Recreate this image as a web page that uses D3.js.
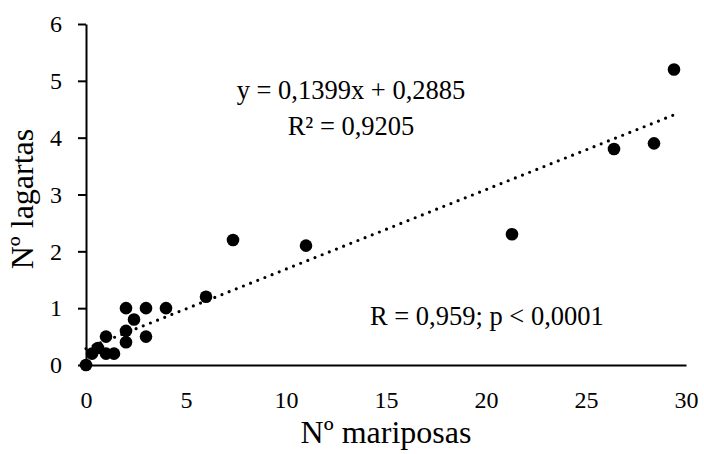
<!doctype html>
<html lang="es">
<head>
    <meta charset="utf-8">
    <script src="https://d3js.org/d3.v7.min.js"></script>
    <title>Mariposas vs lagartas</title>
    <style>
        body { margin: 0; background: #fff; }
        text { font-family: "Liberation Serif", "Times New Roman", serif; fill: #000; }
    </style>
</head>
<body>
    <svg id="chart"></svg>

    <script>
        // data
        const mariposas = [0, 0.3, 0.6, 1, 1.4, 1, 2, 2, 2, 2.4, 3, 3, 4, 6, 7.35, 11, 21.3, 26.4, 28.4, 29.4];
        const lagartas  = [0, 0.2, 0.3, 0.2, 0.2, 0.5, 0.4, 0.6, 1, 0.8, 1, 0.5, 1, 1.2, 2.2, 2.1, 2.3, 3.8, 3.9, 5.2];
        const xTicks = [0, 5, 10, 15, 20, 25, 30];
        const yTicks = [0, 1, 2, 3, 4, 5, 6];
        const slope = 0.1399, intercept = 0.2885;

        let width = 704, height = 454;
        let margin = { top: 24, right: 18, bottom: 89, left: 86 };
        let w = width - margin.left - margin.right;
        let h = height - margin.top - margin.bottom;

        let svg = d3.select("#chart").attr("width", width).attr("height", height);
        let g = svg.append("g").attr("transform", `translate(${margin.left}, ${margin.top})`);

        let xScale = d3.scaleLinear().domain([0, 30]).range([0, w]);
        let yScale = d3.scaleLinear().domain([0, 6]).range([h, 0]);

        // axes
        let xAxis = g.append("g")
            .attr("transform", `translate(0, ${h})`)
            .call(d3.axisBottom(xScale).tickValues(xTicks).tickFormat(d3.format("d"))
                .tickSize(0).tickPadding(26).tickSizeOuter(0));
        let yAxis = g.append("g")
            .call(d3.axisLeft(yScale).tickValues(yTicks).tickFormat(d3.format("d"))
                .tickSize(8).tickPadding(16).tickSizeOuter(0));

        [xAxis, yAxis].forEach(a => {
            a.select(".domain").attr("stroke", "#000").attr("stroke-width", 2);
            a.selectAll(".tick line").attr("stroke", "#000").attr("stroke-width", 2);
            a.selectAll(".tick text").style("font-family", "Liberation Serif").style("font-size", "24px").attr("fill", "#000");
        });

        // trendline (dotted), over the range of the data
        let xr = d3.extent(mariposas);
        g.append("line")
            .attr("x1", xScale(xr[0])).attr("y1", yScale(slope * xr[0] + intercept))
            .attr("x2", xScale(xr[1])).attr("y2", yScale(slope * xr[1] + intercept))
            .attr("stroke", "#000")
            .attr("stroke-width", 3.2)
            .attr("stroke-linecap", "round")
            .attr("stroke-dasharray", "0 7.7");

        // points
        g.selectAll("circle")
            .data(mariposas.map((d, i) => [d, lagartas[i]]))
            .join("circle")
            .attr("cx", d => xScale(d[0]))
            .attr("cy", d => yScale(d[1]))
            .attr("r", 6.3)
            .attr("fill", "#000");

        // axis titles
        g.append("text")
            .attr("x", w / 2).attr("y", h + 78)
            .attr("text-anchor", "middle")
            .style("font-size", "32px")
            .text("Nº mariposas");

        svg.append("text")
            .attr("transform", "translate(33, 199) rotate(-90)")
            .attr("text-anchor", "middle")
            .style("font-size", "32px")
            .text("Nº lagartas");

        // annotations
        svg.append("text")
            .attr("x", 351).attr("y", 99)
            .attr("text-anchor", "middle")
            .style("font-size", "26.5px")
            .text("y = 0,1399x + 0,2885");
        svg.append("text")
            .attr("x", 351).attr("y", 135)
            .attr("text-anchor", "middle")
            .style("font-size", "26.5px")
            .text("R² = 0,9205");
        svg.append("text")
            .attr("x", 370).attr("y", 325)
            .style("font-size", "26.5px")
            .text("R = 0,959; p < 0,0001");
    </script>
</body>
</html>
